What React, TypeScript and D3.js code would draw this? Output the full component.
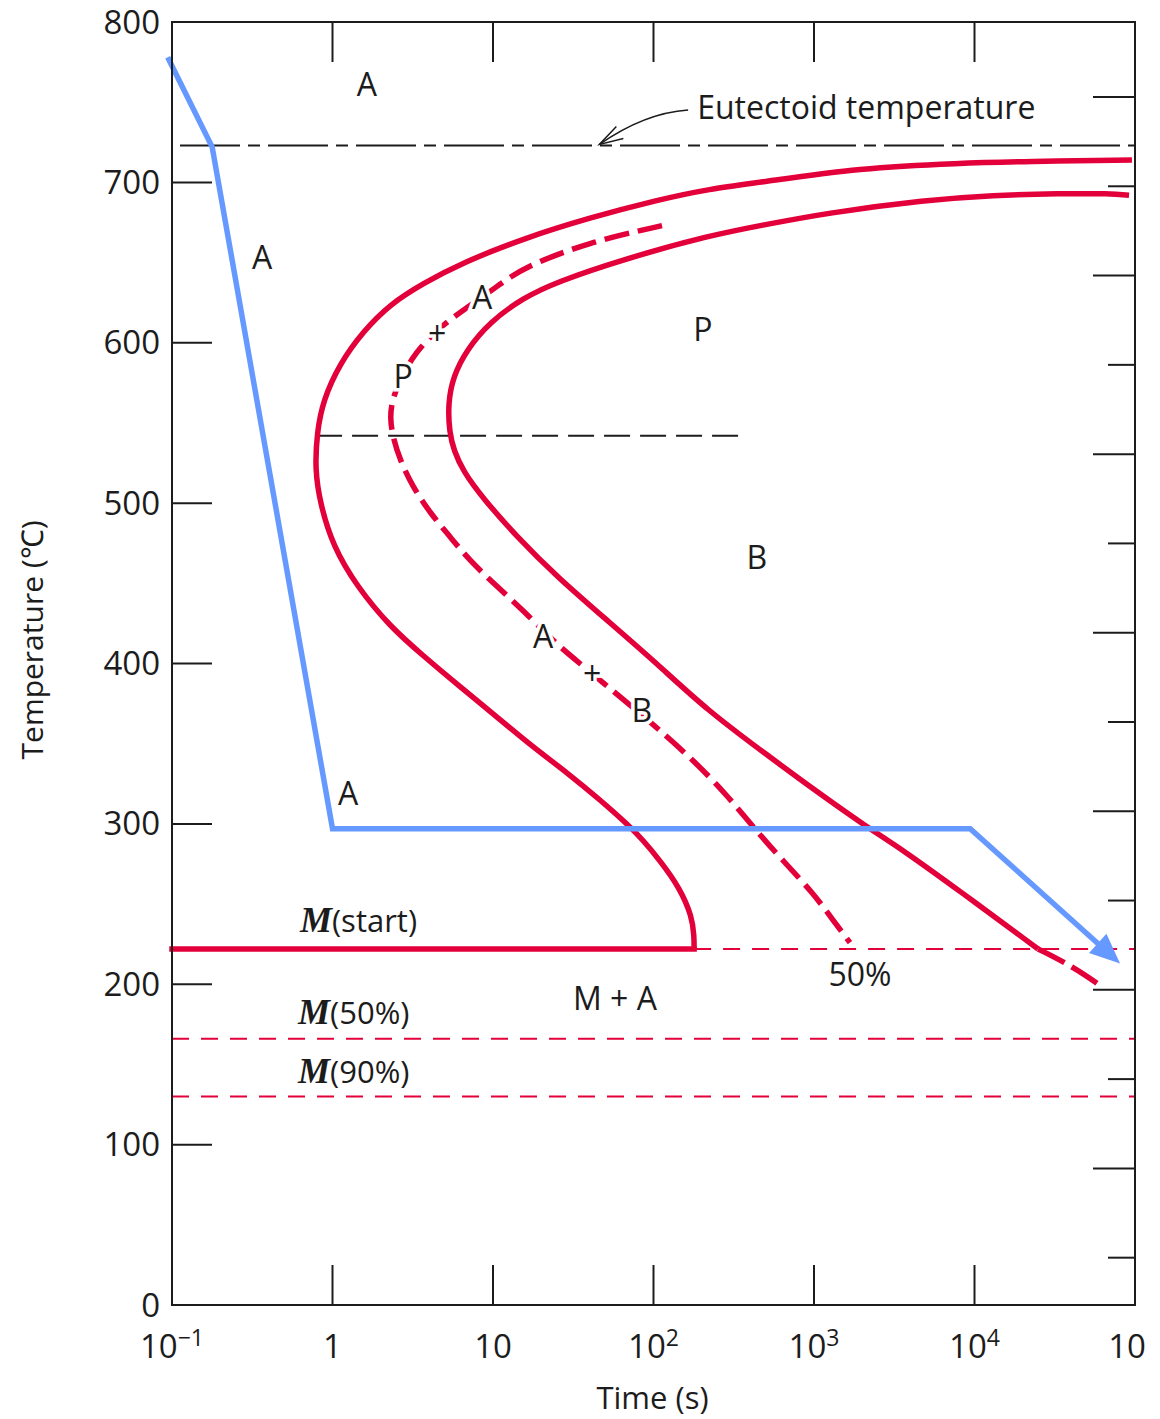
import React, { useEffect, useRef } from "react";
import * as d3 from "d3";

const W = 1160;
const H = 1419;
const left = 172;
const right = 1135;
const top = 22;
const bottom = 1305;

const RED = "#e3003a";
const BLUE = "#6699ff";
const INK = "#1c1c1c";
const FONT = "'Open Sans', 'Liberation Sans', sans-serif";

type P = { t: number; T: number };

// axes
const tempTicks = [0, 100, 200, 300, 400, 500, 600, 700, 800];
const timeTicks = [0.1, 1, 10, 100, 1000, 10000, 100000];
const timeLabels = [
	["10", "\u22121"],
	["1", ""],
	["10", ""],
	["10", "2"],
	["10", "3"],
	["10", "4"],
	["10", ""],
];
// right side ticks (°F)
const fahrTicks = [100, 200, 300, 400, 500, 600, 700, 800, 900, 1000, 1100, 1200, 1300, 1400];

// transformation start curve (solid)
const startCurve: P[] = [
	{ t: 95700, T: 714 },
	{ t: 21200, T: 713 },
	{ t: 8100, T: 712 },
	{ t: 1940, T: 709 },
	{ t: 461, T: 700 },
	{ t: 225, T: 696 },
	{ t: 105, T: 689 },
	{ t: 40.2, T: 678 },
	{ t: 15.4, T: 665 },
	{ t: 6.5, T: 650 },
	{ t: 3.66, T: 637 },
	{ t: 2.28, T: 624 },
	{ t: 1.55, T: 607 },
	{ t: 1.11, T: 587 },
	{ t: 0.873, T: 564 },
	{ t: 0.8, T: 544 },
	{ t: 0.778, T: 521 },
	{ t: 0.836, T: 500 },
	{ t: 1.007, T: 473 },
	{ t: 1.42, T: 448 },
	{ t: 2.28, T: 423 },
	{ t: 3.66, T: 405 },
	{ t: 5.97, T: 387 },
	{ t: 11.1, T: 365 },
	{ t: 17.7, T: 348 },
	{ t: 28.9, T: 332 },
	{ t: 46.4, T: 315 },
	{ t: 68.4, T: 300 },
	{ t: 86, T: 290 },
	{ t: 110, T: 277 },
	{ t: 146, T: 260 },
	{ t: 174, T: 242 },
	{ t: 179, T: 230 },
	{ t: 179, T: 222 },
];

// 50% curve (dashed)
const halfCurve: P[] = [
	{ t: 113, T: 673 },
	{ t: 40.2, T: 663 },
	{ t: 15.4, T: 647 },
	{ t: 10.6, T: 635 },
	{ t: 6.89, T: 622 },
	{ t: 4.68, T: 610 },
	{ t: 3.27, T: 594 },
	{ t: 2.63, T: 577 },
	{ t: 2.35, T: 564 },
	{ t: 2.28, T: 553 },
	{ t: 2.38, T: 541 },
	{ t: 2.63, T: 527 },
	{ t: 3.17, T: 510 },
	{ t: 4.05, T: 494 },
	{ t: 5.4, T: 479 },
	{ t: 7.19, T: 464 },
	{ t: 10.6, T: 448 },
	{ t: 17.0, T: 429 },
	{ t: 24.3, T: 413 },
	{ t: 34.8, T: 400 },
	{ t: 49.9, T: 387 },
	{ t: 71.4, T: 374 },
	{ t: 105, T: 360 },
	{ t: 176, T: 340 },
	{ t: 287, T: 318 },
	{ t: 417, T: 298 },
	{ t: 641, T: 277 },
	{ t: 986, T: 257 },
	{ t: 1313, T: 240 },
	{ t: 1675, T: 226 },
];

// transformation finish curve (solid part, then dashed tail)
const finishCurve: P[] = [
	{ t: 91800, T: 692 },
	{ t: 69800, T: 693 },
	{ t: 34100, T: 693 },
	{ t: 13000, T: 692 },
	{ t: 5060, T: 689 },
	{ t: 1205, T: 681 },
	{ t: 461, T: 673 },
	{ t: 225, T: 667 },
	{ t: 64.6, T: 652 },
	{ t: 25.1, T: 638 },
	{ t: 15.4, T: 628 },
	{ t: 9.57, T: 613 },
	{ t: 6.89, T: 596 },
	{ t: 5.64, T: 579 },
	{ t: 5.24, T: 562 },
	{ t: 5.35, T: 544 },
	{ t: 5.7, T: 533 },
	{ t: 6.5, T: 520 },
	{ t: 8.66, T: 503 },
	{ t: 14.1, T: 479 },
	{ t: 25.1, T: 454 },
	{ t: 51.3, T: 427 },
	{ t: 105, T: 400 },
	{ t: 215, T: 371 },
	{ t: 509, T: 343 },
	{ t: 1044, T: 320 },
	{ t: 2138, T: 298 },
	{ t: 3434, T: 285 },
	{ t: 8128, T: 258 },
	{ t: 24900, T: 222 },
];
const finishTail: P[] = [
	{ t: 24900, T: 222 },
	{ t: 41100, T: 211 },
	{ t: 63200, T: 198 },
];

// cooling path (blue)
const cooling: P[] = [
	{ t: 0.094, T: 778 },
	{ t: 0.178, T: 722 },
	{ t: 1.0, T: 297 },
	{ t: 9400, T: 297 },
	{ t: 80700, T: 213 },
];

const eutectoidT = 723;
const noseT = 542;
const noseSpan = [0.79, 388];
const msT = 222;
const m50T = 166;
const m90T = 130;
const msEndTime = 179;

const phaseLabels = [
	{ text: "A", t: 1.64, T: 761, halo: false },
	{ text: "A", t: 0.364, T: 653, halo: false },
	{ text: "A", t: 1.25, T: 319, halo: false },
	{ text: "P", t: 203, T: 608, halo: false },
	{ text: "B", t: 441, T: 466, halo: false },
	{ text: "P", t: 2.75, T: 579, halo: true },
	{ text: "+", t: 4.48, T: 606, halo: true },
	{ text: "A", t: 8.54, T: 628, halo: true },
	{ text: "A", t: 20.5, T: 417, halo: true },
	{ text: "+", t: 41.4, T: 394, halo: true },
	{ text: "B", t: 84.7, T: 371, halo: true },
	{ text: "M + A", t: 57.5, T: 191, halo: false },
	{ text: "50%", t: 1936, T: 206, halo: false },
];

const mLabels = [
	{ sub: "(start)", t: 0.627, T: 236 },
	{ sub: "(50%)", t: 0.61, T: 179 },
	{ sub: "(90%)", t: 0.61, T: 142 },
];

export default function App() {
	const svgRef = useRef<SVGSVGElement | any>();

	useEffect(() => {
		const svg = d3.select(svgRef.current);
		svg.selectAll("*").remove();

		const x = d3.scaleLog().domain([0.1, 100000]).range([left, right]);
		const y = d3.scaleLinear().domain([0, 800]).range([bottom, top]);
		const yF = d3.scaleLinear().domain([47, 1484]).range([bottom, top]);

		svg.append("rect").attr("width", W).attr("height", H).attr("fill", "#fff");

		const line = d3
			.line<P>()
			.x((d) => x(d.t))
			.y((d) => y(d.T))
			.curve(d3.curveBasis);

		// reference lines
		svg
			.append("line")
			.attr("x1", left + 8)
			.attr("x2", right)
			.attr("y1", y(eutectoidT))
			.attr("y2", y(eutectoidT))
			.attr("stroke", INK)
			.attr("stroke-width", 2)
			.attr("stroke-dasharray", "60 8 12 8");

		svg
			.append("line")
			.attr("x1", x(noseSpan[0]))
			.attr("x2", x(noseSpan[1]))
			.attr("y1", y(noseT))
			.attr("y2", y(noseT))
			.attr("stroke", INK)
			.attr("stroke-width", 2)
			.attr("stroke-dasharray", "26 10");

		// martensite lines
		svg
			.append("line")
			.attr("x1", x(msEndTime))
			.attr("x2", right)
			.attr("y1", y(msT))
			.attr("y2", y(msT))
			.attr("stroke", RED)
			.attr("stroke-width", 2)
			.attr("stroke-dasharray", "17 12");
		[m50T, m90T].forEach((T) => {
			svg
				.append("line")
				.attr("x1", left)
				.attr("x2", right)
				.attr("y1", y(T))
				.attr("y2", y(T))
				.attr("stroke", RED)
				.attr("stroke-width", 2)
				.attr("stroke-dasharray", "17 12");
		});

		// curves
		svg
			.append("path")
			.attr("d", line(startCurve))
			.attr("fill", "none")
			.attr("stroke", RED)
			.attr("stroke-width", 5.5);
		svg
			.append("line")
			.attr("x1", left)
			.attr("x2", x(msEndTime))
			.attr("y1", y(msT))
			.attr("y2", y(msT))
			.attr("stroke", RED)
			.attr("stroke-width", 5.5)
			.attr("stroke-linecap", "square");
		svg
			.append("path")
			.attr("d", line(halfCurve))
			.attr("fill", "none")
			.attr("stroke", RED)
			.attr("stroke-width", 5.5)
			.attr("stroke-dasharray", "25 9");
		svg
			.append("path")
			.attr("d", line(finishCurve))
			.attr("fill", "none")
			.attr("stroke", RED)
			.attr("stroke-width", 5.5);
		svg
			.append("path")
			.attr("d", line(finishTail))
			.attr("fill", "none")
			.attr("stroke", RED)
			.attr("stroke-width", 5.5)
			.attr("stroke-dasharray", "30 8");

		// cooling path with arrow
		const pts = cooling.map((d) => [x(d.t), y(d.T)]);
		const [tx, ty] = pts[pts.length - 1];
		const [px, py] = pts[pts.length - 2];
		const len = Math.hypot(tx - px, ty - py);
		const ux = (tx - px) / len;
		const uy = (ty - py) / len;
		const headL = 30;
		const headW = 13;
		const bx = tx - ux * headL;
		const by = ty - uy * headL;
		const bodyPts = pts.slice(0, -1).concat([[bx + ux * 2, by + uy * 2]]);
		svg
			.append("path")
			.attr("d", d3.line()(bodyPts as any))
			.attr("fill", "none")
			.attr("stroke", BLUE)
			.attr("stroke-width", 5.5);
		svg
			.append("path")
			.attr(
				"d",
				`M${tx},${ty}L${bx - uy * headW},${by + ux * headW}L${bx + uy * headW},${by - ux * headW}Z`
			)
			.attr("fill", BLUE);

		// frame and ticks
		svg
			.append("rect")
			.attr("x", left)
			.attr("y", top)
			.attr("width", right - left)
			.attr("height", bottom - top)
			.attr("fill", "none")
			.attr("stroke", INK)
			.attr("stroke-width", 2);

		const ticks = svg.append("g").attr("stroke", INK).attr("stroke-width", 2);
		tempTicks.slice(1, -1).forEach((T) => {
			ticks.append("line").attr("x1", left).attr("x2", left + 40).attr("y1", y(T)).attr("y2", y(T));
		});
		timeTicks.slice(1, -1).forEach((t) => {
			ticks.append("line").attr("x1", x(t)).attr("x2", x(t)).attr("y1", top).attr("y2", top + 40);
			ticks.append("line").attr("x1", x(t)).attr("x2", x(t)).attr("y1", bottom).attr("y2", bottom - 40);
		});
		fahrTicks.forEach((F) => {
			const l = F % 200 === 0 ? 42 : 27;
			ticks.append("line").attr("x1", right - l).attr("x2", right).attr("y1", yF(F)).attr("y2", yF(F));
		});

		// tick labels
		svg
			.append("g")
			.selectAll("text")
			.data(tempTicks)
			.join("text")
			.attr("x", left - 12)
			.attr("y", (d) => y(d))
			.attr("dy", "0.35em")
			.attr("text-anchor", "end")
			.attr("font-family", FONT)
			.attr("font-size", 33)
			.attr("fill", INK)
			.text((d) => d);

		timeTicks.forEach((t, i) => {
			const [base, sup] = timeLabels[i];
			const tx0 = i === timeTicks.length - 1 ? x(t) - 8 : x(t);
			const txt = svg
				.append("text")
				.attr("x", tx0)
				.attr("y", 1358)
				.attr("text-anchor", "middle")
				.attr("font-family", FONT)
				.attr("font-size", 33)
				.attr("fill", INK);
			txt.append("tspan").text(base);
			if (sup) {
				txt.append("tspan").attr("dy", -12).attr("font-size", 23).text(sup);
			}
		});

		// axis titles
		svg
			.append("text")
			.attr("x", (left + right) / 2 - 1)
			.attr("y", 1409)
			.attr("text-anchor", "middle")
			.attr("font-family", FONT)
			.attr("font-size", 31)
			.attr("fill", INK)
			.text("Time (s)");
		svg
			.append("text")
			.attr("transform", `translate(43,640) rotate(-90)`)
			.attr("text-anchor", "middle")
			.attr("font-family", FONT)
			.attr("font-size", 30)
			.attr("fill", INK)
			.text("Temperature (\u2103)");

		// phase labels
		svg
			.append("g")
			.selectAll("text")
			.data(phaseLabels)
			.join("text")
			.attr("x", (d) => x(d.t))
			.attr("y", (d) => y(d.T))
			.attr("dy", "0.36em")
			.attr("text-anchor", "middle")
			.attr("font-family", FONT)
			.attr("font-size", 32)
			.attr("fill", INK)
			.attr("stroke", (d) => (d.halo ? "#fff" : "none"))
			.attr("stroke-width", 7)
			.attr("paint-order", "stroke")
			.text((d) => d.text);

		mLabels.forEach((m) => {
			const txt = svg
				.append("text")
				.attr("x", x(m.t))
				.attr("y", y(m.T))
				.attr("dy", "0.36em")
				.attr("fill", INK);
			txt
				.append("tspan")
				.attr("font-family", "'Liberation Serif', 'DejaVu Serif', serif")
				.attr("font-style", "italic")
				.attr("font-weight", "bold")
				.attr("font-size", 36)
				.text("M");
			txt
				.append("tspan")
				.attr("font-family", FONT)
				.attr("font-size", 31)
				.text(m.sub);
		});

		// eutectoid annotation
		const ex = x(187);
		const ey = y(747);
		svg
			.append("text")
			.attr("x", ex)
			.attr("y", ey)
			.attr("dy", "0.36em")
			.attr("font-family", FONT)
			.attr("font-size", 32)
			.attr("fill", INK)
			.text("Eutectoid temperature");
		const tipX = x(46);
		const tipY = y(eutectoidT) - 1;
		svg
			.append("path")
			.attr("d", `M${ex - 9},${ey + 3}Q${tipX + 45},${ey + 6} ${tipX},${tipY}`)
			.attr("fill", "none")
			.attr("stroke", INK)
			.attr("stroke-width", 1.5);
		svg
			.append("path")
			.attr("d", `M${tipX + 17},${tipY - 18}L${tipX},${tipY}L${tipX + 24},${tipY - 6}`)
			.attr("fill", "none")
			.attr("stroke", INK)
			.attr("stroke-width", 1.5);
	}, []);

	return (
		<svg
			ref={svgRef}
			width={W}
			height={H}
			style={{ position: "absolute", left: 0, top: 0, display: "block" }}
		/>
	);
}
